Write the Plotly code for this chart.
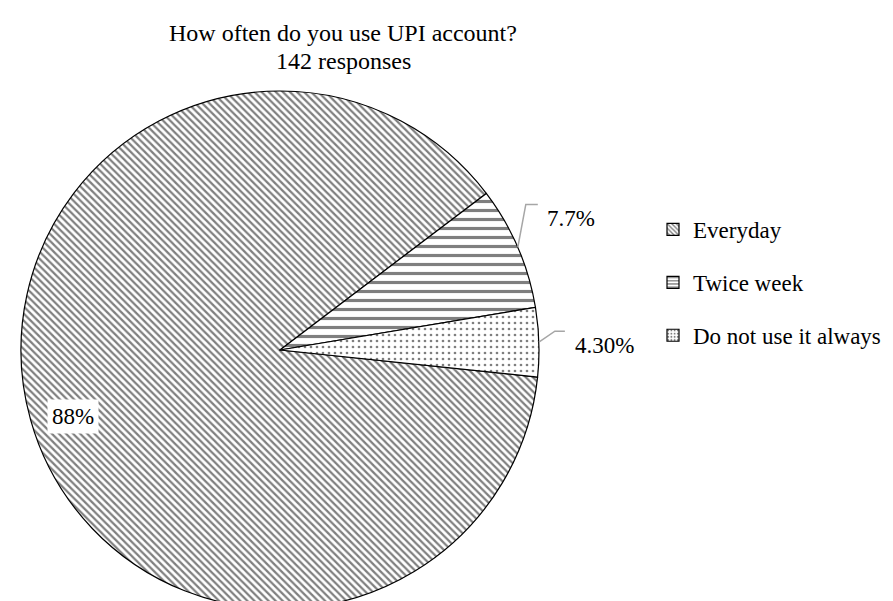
import math
import plotly.graph_objects as go

labels = ["Everyday", "Twice week", "Do not use it always"]
values = [88, 7.7, 4.3]
pct_text = ["88%", "7.7%", "4.30%"]
title_lines = ["How often do you use UPI account?", "142 responses"]
shapes_pat = ["\\", "-", "."]
pat_size = [5, 9, 6]
pat_sol = [0.45, 0.35, 0.16]

W, H = 893, 601
CX, CY, R = 272, 342, 259
ROT = 96  # degrees clockwise from 12 o'clock

FONT = "Liberation Serif, Times New Roman, serif"

fig = go.Figure()
fig.add_trace(go.Pie(
    labels=labels, values=values, sort=False, direction="clockwise",
    rotation=ROT, textinfo="none", hoverinfo="label+percent",
    showlegend=False,
    marker=dict(colors=["white"] * 3,
                line=dict(color="black", width=1.2),
                pattern=dict(shape=shapes_pat, fgcolor="black", bgcolor="white",
                             size=pat_size, solidity=pat_sol, fillmode="overlay")),
    domain=dict(x=[(CX - R) / W, (CX + R) / W], y=[1 - (CY + R) / H, 1 - (CY - R) / H]),
))

# legend entries
for lab, sh, so in zip(labels, shapes_pat, [0.45, 0.4, 0.3]):
    fig.add_trace(go.Bar(x=[None], y=[None], name=lab, legendgroup=lab,
                         marker=dict(color="white", line=dict(color="black", width=1.2),
                                     pattern=dict(shape=sh, fgcolor="black", bgcolor="white",
                                                  size=4, solidity=so))))

# label geometry computed from the data
total = sum(values)
ang = ROT
mids = []
for v in values:
    span = v / total * 360
    mids.append(ang + span / 2)
    ang += span

def edge(theta_deg):
    t = math.radians(theta_deg)
    return CX + R * math.sin(t), CY - R * math.cos(t)

def px2paper(x, y):
    return x / W, 1 - y / H

shapes = []
annotations = []
# outside labels with leader lines for the small slices
offsets = [None, (8, -43, 12, 7, 14), (16, -11, 10, 8, 14)]
for i in (1, 2):
    sx, sy = edge(mids[i])
    dx, dy, hl, gap, tdy = offsets[i]
    ex, ey = sx + dx, sy + dy
    fx = ex + hl
    pts = [(sx, sy), (ex, ey), (fx, ey)]
    path = "M " + " L ".join(f"{px2paper(x, y)[0]},{px2paper(x, y)[1]}" for x, y in pts)
    shapes.append(dict(type="path", xref="paper", yref="paper", path=path,
                       line=dict(color="#a6a6a6", width=1.5)))
    tx, ty = px2paper(fx + gap, ey + tdy)
    annotations.append(dict(x=tx, y=ty, xref="paper", yref="paper", text=pct_text[i],
                            showarrow=False, xanchor="left", yanchor="middle",
                            font=dict(family=FONT, size=23, color="black")))

# inside label for the large slice
lx, ly = px2paper(65, 409)
annotations.append(dict(x=lx, y=ly, xref="paper", yref="paper", text=pct_text[0],
                        showarrow=False, xanchor="center", yanchor="middle",
                        bgcolor="white", borderpad=4,
                        font=dict(family=FONT, size=23, color="black")))

# title, two lines
for line, yc in zip(title_lines, [25, 53]):
    tx, ty = px2paper(335, yc)
    annotations.append(dict(x=tx, y=ty, xref="paper", yref="paper", text=line,
                            showarrow=False, xanchor="center", yanchor="middle",
                            font=dict(family=FONT, size=24, color="black")))

fig.update_layout(
    width=W, height=H,
    margin=dict(l=0, r=0, t=0, b=0),
    paper_bgcolor="white", plot_bgcolor="white",
    font=dict(family=FONT, size=23, color="black"),
    xaxis=dict(visible=False), yaxis=dict(visible=False),
    showlegend=True,
    legend=dict(x=645 / W, xanchor="left", y=1 - 200 / H, yanchor="top",
                tracegroupgap=20, font=dict(family=FONT, size=23, color="black"),
                bgcolor="rgba(0,0,0,0)"),
    shapes=shapes, annotations=annotations,
)

fig.write_html("out.html")
